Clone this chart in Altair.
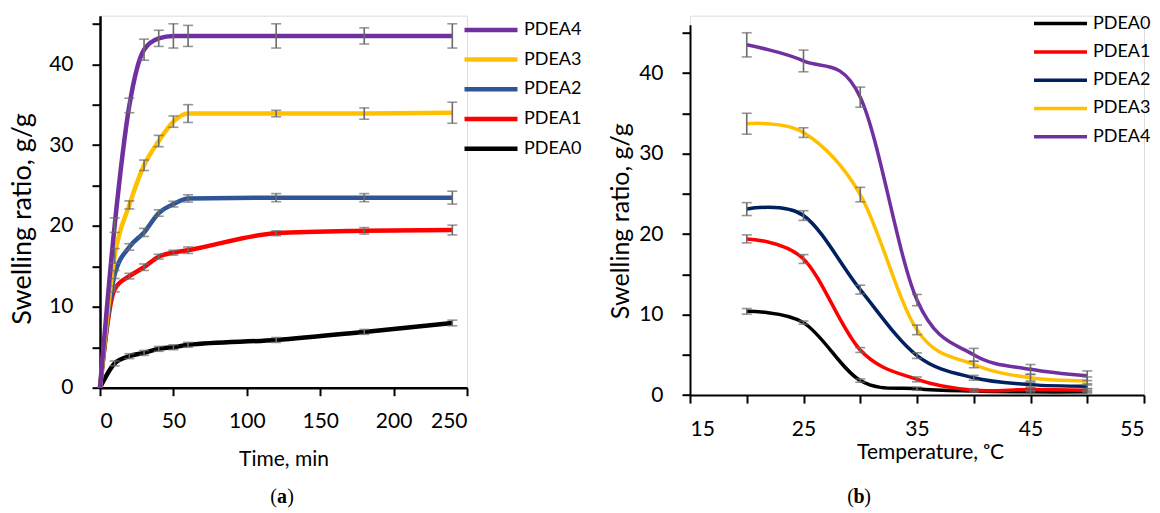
import altair as alt
import pandas as pd

# ---------------- Panel (a): swelling ratio vs time ----------------
time_min = [0, 10, 20, 30, 40, 50, 60, 120, 180, 240]
a_pdea0 = [0, 3.0, 3.9, 4.3, 4.8, 5.0, 5.3, 5.9, 6.9, 8.0]
a_pdea1 = [0, 12.2, 13.8, 14.9, 16.2, 16.7, 17.0, 19.1, 19.4, 19.5]
a_pdea2 = [0, 14.0, 17.4, 19.2, 21.6, 22.7, 23.4, 23.5, 23.5, 23.5]
a_pdea3 = [0, 16.3, 22.6, 27.5, 30.5, 32.9, 33.9, 33.9, 33.9, 34.0]
a_pdea4 = [0, 20.1, 34.9, 41.8, 43.2, 43.5, 43.5, 43.5, 43.5, 43.5]
a_err0 = [0, 0.3, 0.3, 0.3, 0.3, 0.3, 0.3, 0.3, 0.3, 0.35]
a_err1 = [0, 0.35, 0.35, 0.4, 0.3, 0.3, 0.4, 0.3, 0.4, 0.6]
a_err2 = [0, 0.5, 0.4, 0.5, 0.4, 0.35, 0.45, 0.5, 0.5, 0.8]
a_err3 = [0, 0.9, 0.5, 0.65, 0.7, 0.7, 1.1, 0.4, 0.7, 1.3]
a_err4 = [0, 0.9, 0.9, 1.3, 1.0, 1.5, 1.3, 1.5, 1.0, 1.5]

# ---------------- Panel (b): swelling ratio vs temperature ----------------
temp_c = [20, 25, 30, 35, 40, 45, 50]
b_pdea0 = [10.4, 9.0, 1.8, 0.8, 0.5, 0.4, 0.4]
b_pdea1 = [19.4, 16.9, 5.6, 1.95, 0.6, 0.7, 0.6]
b_pdea2 = [23.1, 22.3, 13.1, 4.9, 2.15, 1.3, 1.1]
b_pdea3 = [33.7, 32.6, 24.9, 8.1, 3.8, 2.15, 1.75]
b_pdea4 = [43.5, 41.5, 37.0, 11.8, 5.0, 3.2, 2.4]
b_err0 = [0.35, 0.2, 0.2, 0.2, 0.15, 0.15, 0.15]
b_err1 = [0.5, 0.55, 0.3, 0.3, 0.2, 0.2, 0.2]
b_err2 = [0.8, 0.6, 0.55, 0.35, 0.3, 0.3, 0.3]
b_err3 = [1.3, 0.6, 0.9, 0.6, 0.4, 0.4, 0.5]
b_err4 = [1.5, 1.35, 1.25, 0.7, 0.8, 0.6, 0.6]

series = ["PDEA0", "PDEA1", "PDEA2", "PDEA3", "PDEA4"]
a_legend_order = ["PDEA4", "PDEA3", "PDEA2", "PDEA1", "PDEA0"]
a_legend_colors = ["#7030A0", "#FFC000", "#2F5597", "#FF0000", "#000000"]
b_legend_order = ["PDEA0", "PDEA1", "PDEA2", "PDEA3", "PDEA4"]
b_legend_colors = ["#000000", "#FF0000", "#002060", "#FFC000", "#7030A0"]

y_ticks = [0, 5, 10, 15, 20, 25, 30, 35, 40, 45]
a_x_ticks = [0, 25, 50, 75, 100, 125, 150, 175, 200, 225, 250]
b_x_ticks = [15, 20, 25, 30, 35, 40, 45, 50, 55]


def build(xs, ys, errs):
    rows = []
    for name, yv, ev in zip(series, ys, errs):
        for x, y, e in zip(xs, yv, ev):
            rows.append({"x": x, "y": y, "lo": y - e, "hi": y + e, "e": e, "s": name})
    return pd.DataFrame(rows)


df_a = build(time_min, [a_pdea0, a_pdea1, a_pdea2, a_pdea3, a_pdea4],
             [a_err0, a_err1, a_err2, a_err3, a_err4])
df_b = build(temp_c, [b_pdea0, b_pdea1, b_pdea2, b_pdea3, b_pdea4],
             [b_err0, b_err1, b_err2, b_err3, b_err4])

FONT = "Lato"
ERR = "#6b6b6b"
YTITLE = "Swelling ratio, g/g"


def panel(df, xdom, xticks, xlabel_expr, xtitle, dom, colors, interp, lw,
          W, H, yrange, lx, ly, rowpad, ytitle_size, ytitle_x, ytitle_y,
          xlab_pad, xtitle_x, xtitle_y, dom_w, letter, letter_x, letter_y):
    xs = alt.Scale(domain=xdom, nice=False, zero=False)
    ys = alt.Scale(domain=[0, 46], nice=False, range=yrange)
    xaxis = alt.Axis(values=xticks, labelExpr=xlabel_expr, title=xtitle,
                     grid=False, tickSize=8, tickWidth=2, tickColor="black",
                     domainColor="black", domainWidth=dom_w, labelFont=FONT,
                     labelFontSize=21, labelColor="black", labelPadding=xlab_pad,
                     titleFont=FONT, titleFontSize=21, titleFontWeight="normal",
                     titleColor="black", titleX=xtitle_x, titleY=xtitle_y)
    yaxis = alt.Axis(values=y_ticks, labelExpr="datum.value % 10 == 0 ? datum.label : ''",
                     title=YTITLE, grid=False, tickSize=8, tickWidth=2,
                     tickColor="black", domainColor="black", domainWidth=dom_w,
                     labelFont=FONT, labelFontSize=21, labelColor="black",
                     labelPadding=19, titleFont=FONT, titleFontSize=ytitle_size,
                     titleFontWeight="normal", titleColor="black",
                     titleX=ytitle_x, titleY=ytitle_y)
    base = alt.Chart(df)
    lines = base.mark_line(interpolate=interp, strokeWidth=lw).encode(
        x=alt.X("x:Q", scale=xs, axis=xaxis),
        y=alt.Y("y:Q", scale=ys, axis=yaxis),
        color=alt.Color("s:N", scale=alt.Scale(domain=dom, range=colors),
                        legend=alt.Legend(orient="none", legendX=lx, legendY=ly,
                                          title=None, symbolType="stroke",
                                          symbolSize=2809, symbolStrokeWidth=lw,
                                          clipHeight=20, rowPadding=rowpad,
                                          labelFont=FONT, labelFontSize=18,
                                          labelColor="black", labelOffset=4,
                                          padding=0)),
    )
    err = base.transform_filter("datum.e > 0")
    rule = err.mark_rule(color=ERR, strokeWidth=1.6).encode(
        x=alt.X("x:Q", scale=xs), y=alt.Y("lo:Q", scale=ys), y2="hi:Q")
    cap_lo = err.mark_tick(color=ERR, orient="horizontal", size=10, thickness=1.6).encode(
        x=alt.X("x:Q", scale=xs), y=alt.Y("lo:Q", scale=ys))
    cap_hi = err.mark_tick(color=ERR, orient="horizontal", size=10, thickness=1.6).encode(
        x=alt.X("x:Q", scale=xs), y=alt.Y("hi:Q", scale=ys))
    lab_df = pd.DataFrame({"t": [letter]})
    lab = alt.Chart(lab_df)
    popen = lab.mark_text(text="(", font="Liberation Serif", fontSize=20, color="black").encode(
        x=alt.value(letter_x - 8.5), y=alt.value(letter_y))
    pmid = lab.mark_text(font="Liberation Serif", fontSize=20, fontWeight="bold", color="black").encode(
        x=alt.value(letter_x), y=alt.value(letter_y), text="t:N")
    pclose = lab.mark_text(text=")", font="Liberation Serif", fontSize=20, color="black").encode(
        x=alt.value(letter_x + 8.5), y=alt.value(letter_y))
    return alt.layer(lines, rule, cap_lo, cap_hi, popen, pmid, pclose).properties(width=W, height=H)


left = panel(df_a, [0, 250], a_x_ticks, "datum.value % 50 == 0 ? datum.label : ''",
             "Time, min", a_legend_order, a_legend_colors, "monotone", 4.5, 367, 372,
             [372, 0], 362, 4.2, 9.7,
             27, -64, 202.7, 15, 183.5, 61, 2.5, "a", 182, 481)

right = panel(df_b, [15, 55], b_x_ticks, "(datum.value - 15) % 10 == 0 ? datum.label : ''",
              "Temperature, \u1d52C", b_legend_order, b_legend_colors, "cardinal", 3.5,
              454, 379.4, [379.4, 9], 342, -2.1, 8.3,
              25, -56, 205, 15.5, 240, 46.3, 2, "b", 169, 481)

chart = alt.hconcat(left, right, spacing=223, bounds="flush").resolve_scale(
    color="independent"
).properties(
    padding={"left": 7, "top": 12.7, "right": 0, "bottom": 0}
).configure_view(stroke=None).configure(background="white")

chart.save("out.html", embed_options={"renderer": "svg", "actions": False})
